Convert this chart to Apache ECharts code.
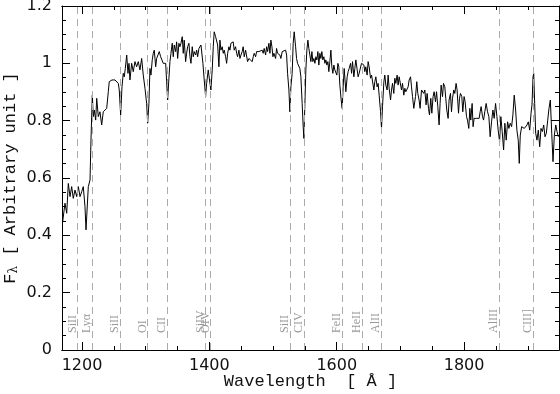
<!DOCTYPE html>
<html style="height: 100%">
<head>
<meta charset="utf-8">
<script src="https://cdn.jsdelivr.net/npm/echarts@6/dist/echarts.min.js"></script>
</head>
<body style="height: 100%; margin: 0; background: #fff">
<div id="container" style="width: 560px; height: 394px"></div>
<script type="text/javascript">
// spectrum
var wavelength = [
  1169.7,1173.3,1176.0,1178.5,1181.2,1183.8,1186.3,1189.0,1191.7,1194.2,1196.9,1199.5,1202.0,1204.7,1206.3,1209.9,
  1212.6,1214.1,1216.2,1217.7,1219.3,1221.5,1223.1,1225.6,1228.2,1230.9,1233.4,1236.1,1238.8,1241.3,1242.8,1245.0,
  1247.1,1249.1,1251.8,1254.5,1257.0,1258.5,1260.7,1262.8,1264.8,1266.4,1268.0,1270.2,1272.2,1273.8,1275.3,
  1278.0,1280.5,1283.2,1285.8,1288.4,1291.0,1293.7,1296.2,1298.9,1301.5,1303.1,1305.1,1306.7,1308.3,1310.3,1311.9,
  1313.5,1315.7,1317.2,1319.7,1321.3,1323.5,1325.1,1327.6,1329.2,1331.4,1332.9,1334.5,1336.5,1338.1,1339.7,1341.7,
  1343.3,1344.9,1347.1,1348.6,1350.2,1352.2,1353.8,1355.4,1357.4,1359.0,1360.5,1362.7,1364.3,1365.9,1367.9,1369.5,
  1371.1,1373.1,1374.7,1376.2,1378.4,1380.0,1381.6,1383.6,1385.2,1386.8,1388.3,1389.9,1391.9,
  1394.1,1395.7,1398.2,1400.9,1402.4,1404.5,1406.1,1407.6,1409.8,1411.4,1413.0,1415.0,1416.6,1418.1,1420.2,1421.8,
  1423.3,1425.5,1427.1,1428.7,1430.7,1432.3,1433.8,1435.9,1437.4,1439.0,1441.2,1442.8,1444.3,1446.4,1448.0,1449.6,
  1451.6,1453.1,1454.7,1456.9,1458.5,1460.0,1462.1,1463.7,1465.2,1467.3,1468.9,1470.4,1472.6,1474.2,1475.7,1477.8,
  1479.3,1480.9,1483.0,1484.5,1486.1,1488.3,1489.9,1491.4,1493.5,1495.1,1496.6,1498.2,1499.8,1501.3,
  1504.0,1505.5,1507.1,1509.2,1510.7,1512.3,1514.4,1515.9,1517.5,1519.7,1521.3,1522.8,1524.9,1526.4,1528.0,1530.0,
  1531.6,1533.2,1535.4,1536.9,1538.5,1540.5,1542.1,1543.7,1545.7,1547.3,1548.4,1550.0,1551.5,1553.1,1554.7,1556.2,
  1557.8,1559.4,1561.0,1562.5,1564.1,1565.7,1567.2,1568.8,1570.4,1571.9,1573.5,1575.1,1576.6,1578.2,1579.8,1581.4,
  1582.9,1584.5,1586.1,1587.6,1589.2,1590.8,1592.3,1593.9,1595.5,1597.0,1598.6,1600.2,1601.8,1603.3,1604.9,1607.0,
  1608.5,1610.1,1611.7,
  1614.3,1616.4,1617.9,1619.5,1621.7,1623.3,1624.8,1626.9,1628.4,1630.0,1632.1,1633.6,1635.2,1637.4,1638.9,1640.5,
  1642.6,1644.1,1645.7,1647.7,1649.3,1650.9,1653.1,1654.7,1656.2,1658.3,1659.8,1661.4,1663.4,1665.0,1666.6,1668.8,
  1670.3,1671.9,1674.0,1675.5,1677.1,1679.1,1680.7,1682.3,1684.5,1686.0,1687.6,1689.6,1691.2,1692.8,1694.8,1696.4,
  1698.0,1700.2,1701.7,1703.3,1705.3,1706.9,1708.5,1710.5,1712.1,1713.7,1715.9,1717.4,1719.0,1721.0,
  1723.7,1725.7,1727.3,1729.3,1730.9,1733.1,1734.7,1736.7,1738.3,1740.3,1741.9,1744.1,1745.6,1747.7,1749.3,1751.3,
  1752.9,1755.1,1756.7,1758.7,1760.7,1762.3,1763.9,1766.1,1767.6,1769.7,1771.2,1772.8,1774.9,1776.4,1778.6,1780.2,
  1781.8,1783.8,1785.4,1787.4,1789.0,1791.2,1792.8,1794.3,1796.4,1797.9,1800.0,1801.6,1803.8,1805.3,1807.4,1809.0,
  1810.5,1812.6,1814.1,1815.7,1817.9,1819.9,1821.5,1823.6,1825.2,1826.7,1828.9,1830.5,
  1832.5,1834.6,1836.8,1838.9,1840.9,1843.1,1845.2,1847.2,1849.4,1851.5,1853.5,1855.7,1857.7,1859.8,1862.0,1864.0,
  1866.1,1868.3,1870.3,1872.4,1874.6,1876.6,1878.7,1880.9,1882.9,1885.0,1886.6,1888.2,1890.4,1892.5,1894.5,1896.7,
  1898.8,1900.8,1903.0,1905.1,1906.6,1908.2,1909.3,1910.8,1912.4,1914.4,1916.5,1918.7,1920.7,1922.8,1925.0,1927.0,
  1929.1,1931.3,1933.3,1935.4,1937.6,1939.6,1941.7,1943.9,1945.9,1948.0
];
var flux = [
  0.448,0.512,0.477,0.581,0.535,0.570,0.529,0.558,0.535,0.570,0.535,0.552,0.570,0.500,0.419,0.570,
  0.593,0.732,0.889,0.814,0.837,0.802,0.878,0.814,0.831,0.785,0.831,0.837,0.843,0.901,0.936,0.930,
  0.942,0.936,0.942,0.936,0.930,0.907,0.820,0.918,0.965,0.953,0.982,1.029,0.965,1.000,0.942,
  1.000,0.971,1.006,0.988,1.006,0.977,1.017,0.959,0.913,0.860,0.791,0.860,0.982,0.959,1.012,1.035,
  1.046,0.988,1.017,1.012,1.041,1.023,1.029,1.000,0.994,1.000,0.936,0.872,0.948,1.006,1.035,1.070,
  1.023,1.064,1.041,1.075,1.017,1.070,1.058,1.070,1.093,1.035,1.081,1.006,1.035,1.058,1.070,1.023,
  1.000,1.058,1.023,1.041,1.029,1.046,1.023,1.052,1.058,1.064,1.070,1.000,0.942,
  0.884,0.930,0.977,0.930,0.907,0.977,1.058,1.110,1.093,1.099,1.064,0.988,1.081,1.046,1.058,1.035,
  1.046,1.023,1.000,1.035,1.058,1.046,1.070,1.064,1.075,1.046,1.058,1.035,1.023,1.046,1.017,1.029,
  1.041,1.058,1.023,1.046,1.041,1.006,1.017,1.012,1.023,1.006,1.023,1.035,1.023,1.041,1.035,1.041,
  1.035,1.041,1.046,1.035,1.052,1.029,1.058,1.041,1.070,1.035,1.081,1.058,1.023,1.035,
  1.017,1.052,1.035,1.041,1.029,1.017,1.041,1.046,1.035,1.046,1.029,0.965,0.907,0.831,0.918,0.965,
  1.070,1.110,1.058,1.017,1.000,0.994,0.982,0.953,0.860,0.779,0.738,0.860,0.977,1.046,1.081,1.052,
  1.058,1.006,1.041,1.006,1.017,1.000,1.023,1.012,1.041,0.994,1.035,1.017,1.041,1.012,1.023,1.000,
  1.012,0.994,1.006,0.971,1.006,1.046,0.988,0.965,0.994,0.977,0.982,0.959,1.000,0.988,0.924,0.872,
  0.843,0.918,0.982,
  0.901,0.953,0.971,0.982,1.000,0.965,1.006,0.953,0.982,1.012,0.977,0.953,0.965,0.959,1.000,1.000,
  0.994,0.971,0.988,0.959,1.006,0.988,0.948,0.959,0.965,0.907,0.936,0.953,0.918,0.930,0.889,0.831,
  0.773,0.849,0.936,0.959,0.924,0.907,0.959,0.913,0.872,0.907,0.930,0.895,0.948,0.930,0.959,0.924,
  0.953,0.948,0.907,0.930,0.889,0.913,0.901,0.895,0.918,0.942,0.953,0.918,0.884,0.843,
  0.884,0.936,0.895,0.872,0.843,0.907,0.901,0.895,0.907,0.855,0.895,0.843,0.820,0.878,0.826,0.884,
  0.901,0.866,0.901,0.849,0.785,0.860,0.924,0.884,0.930,0.918,0.878,0.837,0.808,0.872,0.895,0.831,
  0.878,0.907,0.895,0.930,0.907,0.826,0.878,0.895,0.884,0.831,0.884,0.866,0.814,0.802,0.773,0.843,
  0.802,0.860,0.779,0.808,0.814,0.808,0.814,0.808,0.831,0.849,0.814,0.802,
  0.831,0.860,0.831,0.814,0.744,0.796,0.837,0.808,0.860,0.814,0.767,0.727,0.814,0.762,0.698,0.791,
  0.732,0.796,0.773,0.791,0.779,0.820,0.889,0.837,0.767,0.732,0.651,0.750,0.779,0.785,0.773,0.767,
  0.785,0.796,0.767,0.826,0.855,0.953,0.965,0.860,0.756,0.732,0.767,0.709,0.773,0.762,0.785,0.744,
  0.756,0.802,0.843,0.872,0.756,0.657,0.750,0.785,0.762,0.744
];

// line identifications
var lineWave = [1193, 1216, 1260, 1303, 1334, 1394, 1402, 1527, 1549, 1608, 1640, 1670, 1855, 1908];
var lineName = ['SiII', 'Lyα', 'SiII', 'OI', 'CII', 'SiIV', 'OIV', 'SiII', 'CIV', 'FeII', 'HeII', 'AlII', 'AlIII', 'CIII]'];

var xMin = 1168.6, xMax = 1949;

var dom = document.getElementById('container');
var myChart = echarts.init(dom, null, { renderer: 'canvas' });

var spec = [];
for (var i = 0; i < wavelength.length; i++) {
    spec.push([wavelength[i], flux[i]]);
}

var ids = [];
for (var i = 0; i < lineWave.length; i++) {
    ids.push({ xAxis: lineWave[i], label: { formatter: lineName[i] } });
}

function xAx(pos, step, len, labels) {
    return {
        type: 'value', position: pos, min: xMin, max: xMax,
        minInterval: step, maxInterval: step, splitNumber: Math.round((xMax - xMin) / step),
        axisLine: { show: true, onZero: false, lineStyle: { color: '#000', width: 1 } },
        axisTick: { show: true, inside: true, length: len, lineStyle: { color: '#000' } },
        axisLabel: {
            show: labels, showMinLabel: false, showMaxLabel: false, margin: 8,
            color: '#111', fontFamily: 'DejaVu Sans', fontSize: 16,
            formatter: function (v) { return String(v); }
        },
        splitLine: { show: false }
    };
}

function yAx(pos, labels) {
    return {
        type: 'value', position: pos, min: 0, max: 1.2, interval: 0.2,
        axisLine: { show: true, onZero: false, lineStyle: { color: '#000', width: 1 } },
        axisTick: { show: true, inside: true, length: 8, lineStyle: { color: '#000' } },
        minorTick: { show: true, splitNumber: 4, length: 4, lineStyle: { color: '#000' } },
        axisLabel: { show: labels, margin: 10, color: '#111', fontFamily: 'DejaVu Sans', fontSize: 16 },
        splitLine: { show: false }
    };
}

var xBottom = xAx('bottom', 200, 8, true);
xBottom.name = 'Wavelength  [ Å ]';
xBottom.nameLocation = 'middle';
xBottom.nameMoveOverlap = false;
xBottom.nameGap = 23;
xBottom.nameTextStyle = { fontFamily: 'Liberation Mono', fontSize: 17, color: '#111' };

var yLeft = yAx('left', true);
yLeft.name = 'F{sub|λ} [ Arbitrary unit ]';
yLeft.nameLocation = 'middle';
yLeft.nameRotate = 90;
yLeft.nameMoveOverlap = false;
yLeft.nameGap = 42;
yLeft.nameTextStyle = {
    fontFamily: 'Liberation Mono', fontSize: 17, color: '#111',
    rich: { sub: { fontFamily: 'DejaVu Serif', fontSize: 12, color: '#111', verticalAlign: 'bottom', padding: [8, 0, 0, 0] } }
};

var option = {
    animation: false,
    backgroundColor: '#fff',
    grid: { left: 62, right: 1, top: 6, bottom: 44, containLabel: false, outerBoundsMode: 'none' },
    xAxis: [xBottom, xAx('bottom', 50, 4, false), xAx('top', 200, 8, false), xAx('top', 50, 4, false)],
    yAxis: [yLeft, yAx('right', false)],
    series: [{
        type: 'line',
        xAxisIndex: 0,
        yAxisIndex: 0,
        data: spec,
        symbol: 'none',
        lineStyle: { color: '#000', width: 1 },
        markLine: {
            silent: true,
            symbol: ['none', 'none'],
            lineStyle: { color: '#aaa', width: 1, type: [7, 5] },
            label: {
                show: true, position: 'insideStartTop', distance: [17, -1],
                color: '#999', fontFamily: 'Liberation Serif', fontSize: 12
            },
            data: ids
        }
    }]
};

myChart.setOption(option);
</script>
</body>
</html>
